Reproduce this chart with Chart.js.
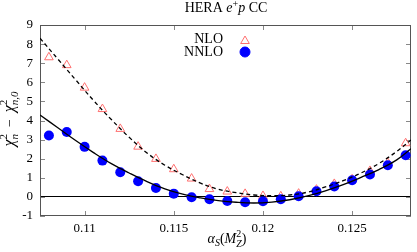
<!DOCTYPE html>
<html><head><meta charset="utf-8">
<script src="https://cdn.jsdelivr.net/npm/chart.js@4/dist/chart.umd.min.js"></script>
<style>html,body{margin:0;padding:0;background:#fff}canvas{display:block}</style>
</head><body>
<canvas id="c" width="417" height="252"></canvas>
<script>
const alphaS = [0.108,0.109,0.110,0.111,0.112,0.113,0.114,0.115,0.116,0.117,0.118,0.119,0.120,0.121,0.122,0.123,0.124,0.125,0.126,0.127,0.128];
const nloChi2 = [7.31,6.90,5.72,4.60,3.56,2.63,1.99,1.45,0.96,0.41,0.28,0.16,0.05,0.03,0.17,0.38,0.68,0.92,1.36,1.78,2.81];
const nnloChi2 = [3.21,3.40,2.62,1.90,1.29,0.82,0.47,0.17,-0.02,-0.12,-0.21,-0.28,-0.23,-0.12,0.03,0.30,0.54,0.87,1.17,1.66,2.18];
const fitX = [0.1075,0.1085,0.1095,0.1105,0.1115,0.1125,0.1135,0.1145,0.1155,0.1165,0.1175,0.1185,0.1195,0.1205,0.1215,0.1225,0.1235,0.1245,0.1255,0.1265,0.1275,0.1283];
const nloFit = [8.31,7.22,6.13,5.05,4.05,3.12,2.30,1.66,1.16,0.72,0.40,0.22,0.10,0.06,0.10,0.25,0.52,0.85,1.25,1.75,2.38,2.98];
const nnloFit = [4.29,3.62,2.95,2.32,1.74,1.25,0.80,0.42,0.14,-0.05,-0.19,-0.28,-0.32,-0.27,-0.15,0.05,0.32,0.64,1.02,1.43,1.94,2.52];
const xTicks = [0.11,0.115,0.12,0.125];
const yTicks = [-1,0,1,2,3,4,5,6,7,8,9];
const xRange = [0.1075,0.1283];
const yRange = [-1,9];
const seriesNames = ['NLO','NNLO'];

const FONT = '"Liberation Serif", "Times New Roman", serif';

function drawRich(ctx, segs, x, y, rot, align) {
  ctx.save();
  ctx.translate(x, y);
  if (rot) ctx.rotate(rot);
  ctx.textBaseline = 'alphabetic';
  ctx.textAlign = 'left';
  ctx.fillStyle = '#000';
  let pos = 0, lastStart = 0, lastEnd = 0;
  const starts = [];
  for (const s of segs) {
    ctx.font = (s.it ? 'italic ' : '') + s.size + 'px ' + FONT;
    const w = ctx.measureText(s.t).width;
    const start = s.under ? lastStart : pos;
    starts.push(start);
    if (s.under) { pos = Math.max(lastEnd, start + w); }
    else { pos = start + w; lastStart = start; lastEnd = pos; }
  }
  const off = align === 'left' ? 0 : (align === 'right' ? -pos : -pos / 2);
  segs.forEach((s, i) => {
    ctx.font = (s.it ? 'italic ' : '') + s.size + 'px ' + FONT;
    ctx.fillText(s.t, off + starts[i], s.dy || 0);
  });
  ctx.restore();
}

const decor = {
  id: 'decor',
  beforeDatasetsDraw(chart) {
    const {ctx, chartArea: a, scales: {x, y}} = chart;
    ctx.save();
    ctx.strokeStyle = '#888';
    ctx.lineWidth = 1;
    ctx.beginPath();
    for (const v of yTicks) {
      const py = Math.round(y.getPixelForValue(v)) + 0.5;
      ctx.moveTo(a.left, py); ctx.lineTo(a.left + 5, py);
      ctx.moveTo(a.right, py); ctx.lineTo(a.right - 5, py);
    }
    for (const v of xTicks) {
      const px = Math.round(x.getPixelForValue(v)) + 0.5;
      ctx.moveTo(px, a.bottom); ctx.lineTo(px, a.bottom - 5);
      ctx.moveTo(px, a.top); ctx.lineTo(px, a.top + 5);
    }
    ctx.stroke();
    ctx.strokeStyle = '#555';
    ctx.strokeRect(a.left + 0.5, a.top + 0.5, a.right - a.left - 1, a.bottom - a.top - 1);
    ctx.restore();
  },
  afterDraw(chart) {
    const {ctx} = chart;
    // title
    drawRich(ctx, [
      {t: 'HERA ', size: 14},
      {t: 'e', size: 14, it: true},
      {t: '+', size: 10, dy: -5},
      {t: 'p', size: 14, it: true},
      {t: ' CC', size: 14}
    ], 226, 12, 0, 'center');
    // x axis title
    drawRich(ctx, [
      {t: 'α', size: 14, it: true},
      {t: 'S', size: 10, it: true, dy: 3},
      {t: '(', size: 14},
      {t: 'M', size: 14, it: true},
      {t: '2', size: 10, dy: -6},
      {t: 'Z', size: 10, it: true, dy: 3.5, under: true},
      {t: ')', size: 14}
    ], 227, 243, 0, 'center');
    // y axis title
    drawRich(ctx, [
      {t: 'χ', size: 16, it: true},
      {t: '2', size: 11, dy: -7},
      {t: 'n', size: 11, it: true, dy: 4, under: true},
      {t: '  −  ', size: 14},
      {t: 'χ', size: 16, it: true},
      {t: '2', size: 11, dy: -7},
      {t: 'n,0', size: 11, it: true, dy: 4, under: true}
    ], 14, 119, -Math.PI / 2, 'center');
    // legend
    ctx.save();
    ctx.font = '14px ' + FONT;
    ctx.fillStyle = '#000';
    ctx.textAlign = 'right';
    ctx.textBaseline = 'alphabetic';
    ctx.fillText(seriesNames[0], 223, 43);
    ctx.fillText(seriesNames[1], 223, 55.5);
    ctx.restore();
    ctx.save();
    ctx.strokeStyle = '#ff7070'; ctx.fillStyle = 'rgba(0,0,0,0)'; ctx.lineWidth = 1;
    Chart.helpers.drawPoint(ctx, {pointStyle: 'triangle', radius: 5, borderWidth: 1, rotation: 0}, 245, 41);
    ctx.restore();
    ctx.save();
    ctx.fillStyle = '#0000ff'; ctx.strokeStyle = '#0000ff'; ctx.lineWidth = 1;
    Chart.helpers.drawPoint(ctx, {pointStyle: 'circle', radius: 5, borderWidth: 1, rotation: 0}, 245, 52);
    ctx.restore();
  }
};

new Chart(document.getElementById('c'), {
  type: 'scatter',
  data: {
    datasets: [
      {
        label: seriesNames[0],
        data: alphaS.map((v, i) => ({x: v, y: nloChi2[i]})),
        pointStyle: 'triangle', pointRadius: 5, pointBorderWidth: 1,
        borderColor: '#ff7070', backgroundColor: 'rgba(255,255,255,0)',
        order: 2
      },
      {
        label: seriesNames[1],
        data: alphaS.map((v, i) => ({x: v, y: nnloChi2[i]})),
        pointStyle: 'circle', pointRadius: 5, pointBorderWidth: 0,
        borderColor: '#0000ff', backgroundColor: '#0000ff',
        order: 1
      },
      {
        label: 'NLO fit',
        data: fitX.map((v, i) => ({x: v, y: nloFit[i]})),
        showLine: true, pointRadius: 0, borderColor: '#000', borderWidth: 1.3,
        borderDash: [4, 3], tension: 0.4, order: 0
      },
      {
        label: 'NNLO fit',
        data: fitX.map((v, i) => ({x: v, y: nnloFit[i]})),
        showLine: true, pointRadius: 0, borderColor: '#000', borderWidth: 1.3,
        tension: 0.4, order: 0
      }
    ]
  },
  options: {
    responsive: false,
    animation: false,
    devicePixelRatio: 1,
    layout: {padding: {top: 25, right: 5, left: 0, bottom: 0}},
    plugins: {legend: {display: false}, tooltip: {enabled: false}, title: {display: false}},
    scales: {
      x: {
        type: 'linear', min: xRange[0], max: xRange[1],
        afterBuildTicks: s => { s.ticks = xTicks.map(v => ({value: v})); },
        afterFit: s => { s.height = 36; },
        grid: {display: false, drawTicks: false},
        border: {display: false},
        ticks: {color: '#000', font: {family: FONT, size: 13}, padding: 5, maxRotation: 0,
          callback: v => String(v)}
      },
      y: {
        type: 'linear', min: yRange[0], max: yRange[1],
        afterBuildTicks: s => { s.ticks = yTicks.map(v => ({value: v})); },
        afterFit: s => { s.width = 40; },
        grid: {display: true, drawTicks: false, lineWidth: 1,
          color: c => (c.tick && c.tick.value === 0) ? '#000' : 'rgba(0,0,0,0)'},
        border: {display: false},
        ticks: {color: '#000', font: {family: FONT, size: 13}, padding: 7,
          callback: v => String(v)}
      }
    }
  },
  plugins: [decor]
});
</script>
</body></html>
